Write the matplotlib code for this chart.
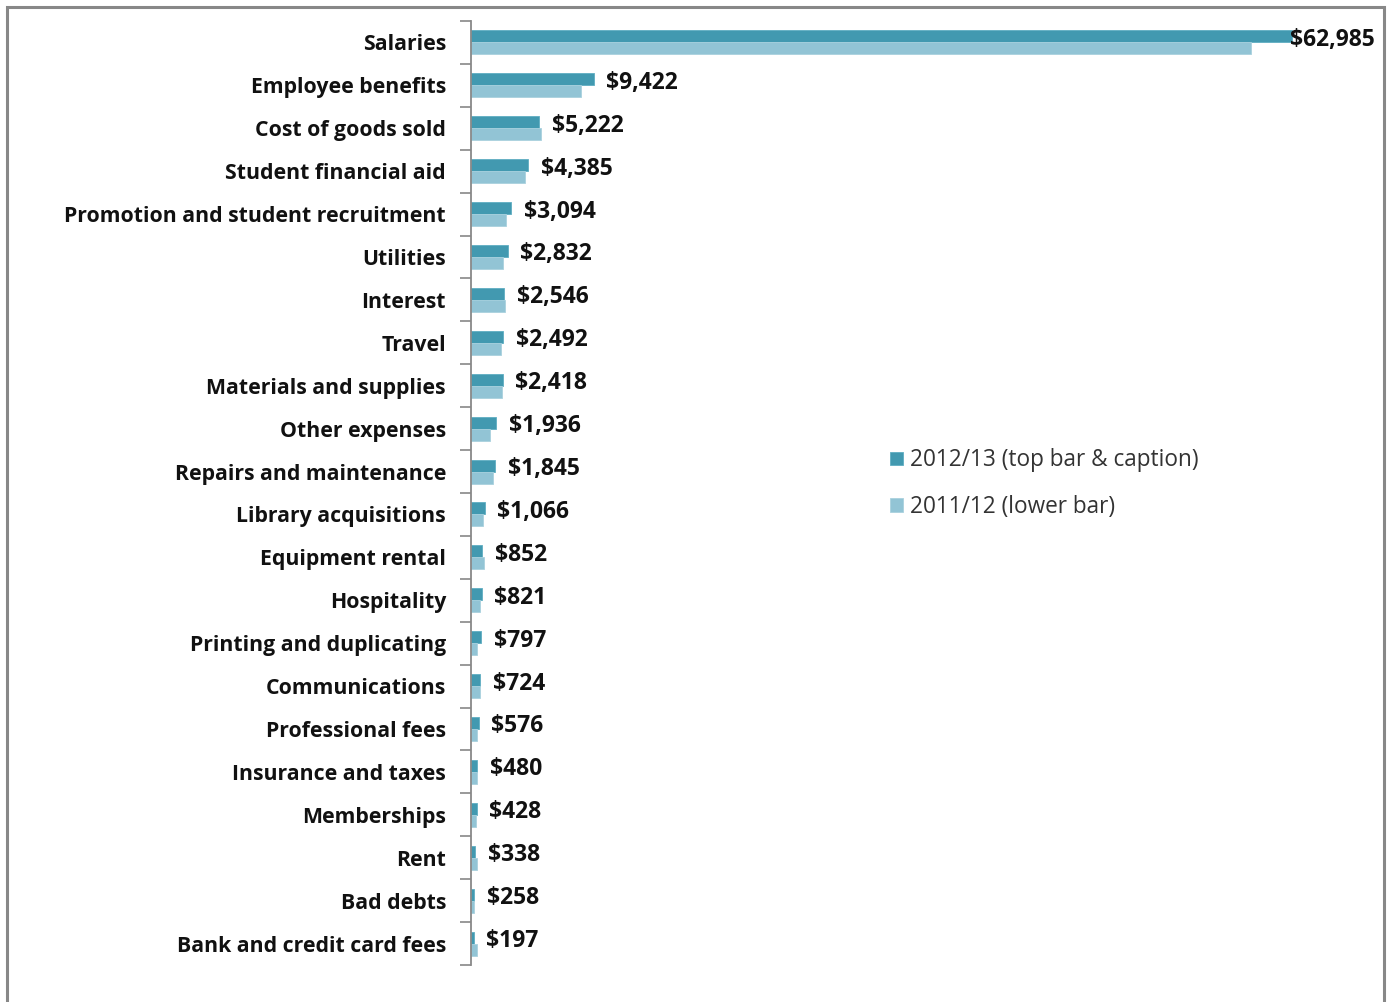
import matplotlib
matplotlib.use('Agg')
import matplotlib.pyplot as plt
from matplotlib.patches import Rectangle

# expense categories, top to bottom
categories = ['Salaries', 'Employee benefits', 'Cost of goods sold', 'Student financial aid',
              'Promotion and student recruitment', 'Utilities', 'Interest', 'Travel',
              'Materials and supplies', 'Other expenses', 'Repairs and maintenance',
              'Library acquisitions', 'Equipment rental', 'Hospitality',
              'Printing and duplicating', 'Communications', 'Professional fees',
              'Insurance and taxes', 'Memberships', 'Rent', 'Bad debts',
              'Bank and credit card fees']
# 2012/13 (labelled), thousands of dollars
y2013 = [62985, 9422, 5222, 4385, 3094, 2832, 2546, 2492, 2418, 1936, 1845, 1066,
         852, 821, 797, 724, 576, 480, 428, 338, 258, 197]
# 2011/12
y2012 = [59860, 8420, 5350, 4120, 2690, 2480, 2590, 2300, 2410, 1460, 1710, 945,
         980, 720, 490, 720, 480, 480, 420, 430, 250, 480]

c_new = '#4299B0'
c_old = '#92C4D5'

plt.rcParams['font.family'] = ['Open Sans', 'DejaVu Sans']

W, H = 1390, 1002
fig = plt.figure(figsize=(W / 100, H / 100), dpi=100)
ax = fig.add_axes([471 / W, 1 - 965 / H, (1380 - 471) / W, (965 - 21) / H])

pos = list(range(len(categories)))
bh = 0.28
ax.barh([p - bh / 2 for p in pos], y2013, height=bh, color=c_new,
        edgecolor='#5FAEC2', linewidth=0.6, label='2012/13 (top bar & caption)')
ax.barh([p + bh / 2 for p in pos], y2012, height=bh, color=c_old,
        edgecolor='#A9D1DE', linewidth=0.6, label='2011/12 (lower bar)')

xmax = 69760
ax.set_xlim(0, xmax)
ax.set_ylim(len(categories) - 0.5, -0.5)

for p, v in zip(pos, y2013):
    off = -1 if v > 0.85 * xmax else 9
    ax.annotate(f'${v:,}', (v, p - bh / 2), xytext=(off, -2.5),
                textcoords='offset points', ha='left', va='center',
                fontsize=16.5, fontweight='bold', color='#111111')

# category names centred on each band, boundary ticks between bands
ax.set_yticks(pos)
ax.set_yticklabels(categories, fontsize=15.3, fontweight='bold', color='#111111')
ax.tick_params(axis='y', which='major', length=0, pad=18)
ax.set_yticks([p - 0.5 for p in pos] + [len(pos) - 0.5], minor=True)
ax.tick_params(axis='y', which='minor', length=8, width=1.2, color='#888888')
ax.set_xticks([])

for s in ['top', 'right', 'bottom']:
    ax.spines[s].set_visible(False)
ax.spines['left'].set_color('#888888')
ax.spines['left'].set_linewidth(1.3)

leg = fig.legend(loc='upper left', bbox_to_anchor=(870 / W, 1 - 428 / H),
                 frameon=False, fontsize=16.3, handlelength=0.55, handleheight=0.55,
                 handletextpad=0.3, labelspacing=1.0)
for t in leg.get_texts():
    t.set_color('#333333')

# outer frame
fig.patches.append(Rectangle((7 / W, -0.05), (1384 - 7) / W, 1.05 - 7 / H,
                             transform=fig.transFigure, fill=False,
                             edgecolor='#888888', linewidth=2.2))

fig.savefig('out.png', dpi=100, facecolor='white')
